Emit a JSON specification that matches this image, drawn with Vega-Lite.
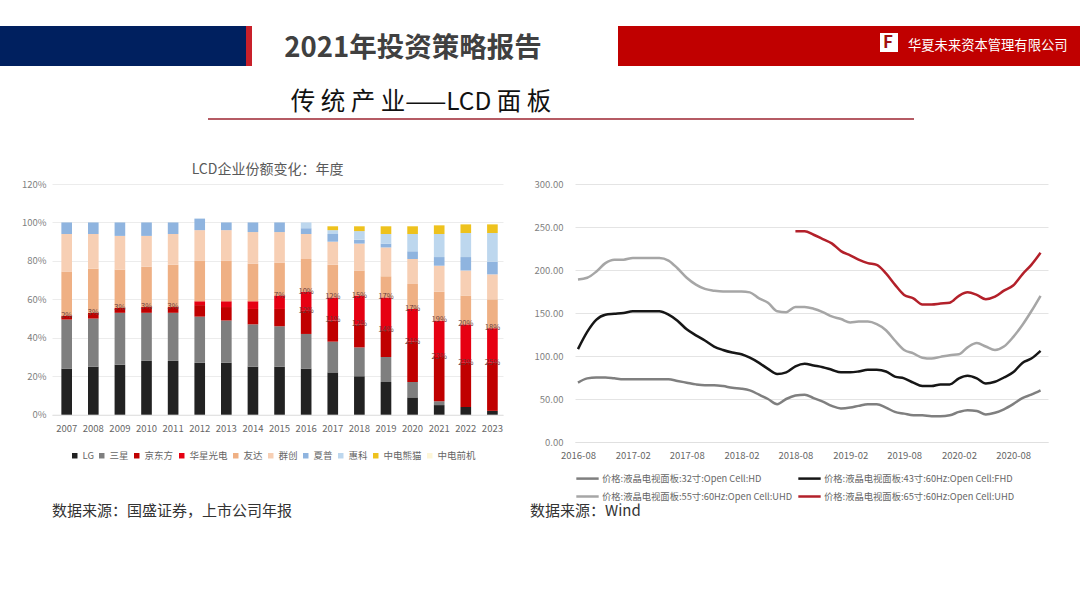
{"$schema":"https://vega.github.io/schema/vega-lite/v6.json","padding":0,"background":"#ffffff","bounds":"flush","spacing":0,"config":{"view":{"stroke":null},"font":"Noto Sans CJK SC"},
"datasets":{
"share":[
{"year":2007,"company":"LG","rank":1,"value":0.24},{"year":2007,"company":"三星","rank":2,"value":0.255},{"year":2007,"company":"京东方","rank":3,"value":0.02},{"year":2007,"company":"友达","rank":5,"value":0.23},{"year":2007,"company":"群创","rank":6,"value":0.195},{"year":2007,"company":"夏普","rank":7,"value":0.06},
{"year":2008,"company":"LG","rank":1,"value":0.25},{"year":2008,"company":"三星","rank":2,"value":0.25},{"year":2008,"company":"京东方","rank":3,"value":0.03},{"year":2008,"company":"友达","rank":5,"value":0.23},{"year":2008,"company":"群创","rank":6,"value":0.18},{"year":2008,"company":"夏普","rank":7,"value":0.06},
{"year":2009,"company":"LG","rank":1,"value":0.26},{"year":2009,"company":"三星","rank":2,"value":0.27},{"year":2009,"company":"京东方","rank":3,"value":0.025},{"year":2009,"company":"友达","rank":5,"value":0.2},{"year":2009,"company":"群创","rank":6,"value":0.175},{"year":2009,"company":"夏普","rank":7,"value":0.07},
{"year":2010,"company":"LG","rank":1,"value":0.28},{"year":2010,"company":"三星","rank":2,"value":0.25},{"year":2010,"company":"京东方","rank":3,"value":0.03},{"year":2010,"company":"友达","rank":5,"value":0.21},{"year":2010,"company":"群创","rank":6,"value":0.16},{"year":2010,"company":"夏普","rank":7,"value":0.07},
{"year":2011,"company":"LG","rank":1,"value":0.28},{"year":2011,"company":"三星","rank":2,"value":0.25},{"year":2011,"company":"京东方","rank":3,"value":0.03},{"year":2011,"company":"友达","rank":5,"value":0.22},{"year":2011,"company":"群创","rank":6,"value":0.16},{"year":2011,"company":"夏普","rank":7,"value":0.06},
{"year":2012,"company":"LG","rank":1,"value":0.27},{"year":2012,"company":"三星","rank":2,"value":0.24},{"year":2012,"company":"京东方","rank":3,"value":0.06},{"year":2012,"company":"华星光电","rank":4,"value":0.02},{"year":2012,"company":"友达","rank":5,"value":0.21},{"year":2012,"company":"群创","rank":6,"value":0.16},{"year":2012,"company":"夏普","rank":7,"value":0.06},
{"year":2013,"company":"LG","rank":1,"value":0.27},{"year":2013,"company":"三星","rank":2,"value":0.22},{"year":2013,"company":"京东方","rank":3,"value":0.07},{"year":2013,"company":"华星光电","rank":4,"value":0.03},{"year":2013,"company":"友达","rank":5,"value":0.21},{"year":2013,"company":"群创","rank":6,"value":0.16},{"year":2013,"company":"夏普","rank":7,"value":0.04},
{"year":2014,"company":"LG","rank":1,"value":0.25},{"year":2014,"company":"三星","rank":2,"value":0.22},{"year":2014,"company":"京东方","rank":3,"value":0.08},{"year":2014,"company":"华星光电","rank":4,"value":0.04},{"year":2014,"company":"友达","rank":5,"value":0.195},{"year":2014,"company":"群创","rank":6,"value":0.165},{"year":2014,"company":"夏普","rank":7,"value":0.05},
{"year":2015,"company":"LG","rank":1,"value":0.25},{"year":2015,"company":"三星","rank":2,"value":0.21},{"year":2015,"company":"京东方","rank":3,"value":0.09},{"year":2015,"company":"华星光电","rank":4,"value":0.07},{"year":2015,"company":"友达","rank":5,"value":0.17},{"year":2015,"company":"群创","rank":6,"value":0.16},{"year":2015,"company":"夏普","rank":7,"value":0.05},
{"year":2016,"company":"LG","rank":1,"value":0.24},{"year":2016,"company":"三星","rank":2,"value":0.18},{"year":2016,"company":"京东方","rank":3,"value":0.12},{"year":2016,"company":"华星光电","rank":4,"value":0.1},{"year":2016,"company":"友达","rank":5,"value":0.17},{"year":2016,"company":"群创","rank":6,"value":0.13},{"year":2016,"company":"夏普","rank":7,"value":0.03},{"year":2016,"company":"惠科","rank":8,"value":0.03},
{"year":2017,"company":"LG","rank":1,"value":0.22},{"year":2017,"company":"三星","rank":2,"value":0.16},{"year":2017,"company":"京东方","rank":3,"value":0.11},{"year":2017,"company":"华星光电","rank":4,"value":0.12},{"year":2017,"company":"友达","rank":5,"value":0.17},{"year":2017,"company":"群创","rank":6,"value":0.12},{"year":2017,"company":"夏普","rank":7,"value":0.04},{"year":2017,"company":"惠科","rank":8,"value":0.02},{"year":2017,"company":"中电熊猫","rank":9,"value":0.02},
{"year":2018,"company":"LG","rank":1,"value":0.2},{"year":2018,"company":"三星","rank":2,"value":0.15},{"year":2018,"company":"京东方","rank":3,"value":0.12},{"year":2018,"company":"华星光电","rank":4,"value":0.15},{"year":2018,"company":"友达","rank":5,"value":0.13},{"year":2018,"company":"群创","rank":6,"value":0.14},{"year":2018,"company":"夏普","rank":7,"value":0.02},{"year":2018,"company":"惠科","rank":8,"value":0.045},{"year":2018,"company":"中电熊猫","rank":9,"value":0.025},
{"year":2019,"company":"LG","rank":1,"value":0.17},{"year":2019,"company":"三星","rank":2,"value":0.13},{"year":2019,"company":"京东方","rank":3,"value":0.14},{"year":2019,"company":"华星光电","rank":4,"value":0.17},{"year":2019,"company":"友达","rank":5,"value":0.11},{"year":2019,"company":"群创","rank":6,"value":0.15},{"year":2019,"company":"夏普","rank":7,"value":0.02},{"year":2019,"company":"惠科","rank":8,"value":0.05},{"year":2019,"company":"中电熊猫","rank":9,"value":0.04},
{"year":2020,"company":"LG","rank":1,"value":0.09},{"year":2020,"company":"三星","rank":2,"value":0.08},{"year":2020,"company":"京东方","rank":3,"value":0.21},{"year":2020,"company":"华星光电","rank":4,"value":0.17},{"year":2020,"company":"友达","rank":5,"value":0.13},{"year":2020,"company":"群创","rank":6,"value":0.13},{"year":2020,"company":"夏普","rank":7,"value":0.04},{"year":2020,"company":"惠科","rank":8,"value":0.09},{"year":2020,"company":"中电熊猫","rank":9,"value":0.04},
{"year":2021,"company":"LG","rank":1,"value":0.05},{"year":2021,"company":"三星","rank":2,"value":0.02},{"year":2021,"company":"京东方","rank":3,"value":0.23},{"year":2021,"company":"华星光电","rank":4,"value":0.19},{"year":2021,"company":"友达","rank":5,"value":0.15},{"year":2021,"company":"群创","rank":6,"value":0.135},{"year":2021,"company":"夏普","rank":7,"value":0.045},{"year":2021,"company":"惠科","rank":8,"value":0.12},{"year":2021,"company":"中电熊猫","rank":9,"value":0.045},
{"year":2022,"company":"LG","rank":1,"value":0.04},{"year":2022,"company":"京东方","rank":3,"value":0.23},{"year":2022,"company":"华星光电","rank":4,"value":0.2},{"year":2022,"company":"友达","rank":5,"value":0.15},{"year":2022,"company":"群创","rank":6,"value":0.13},{"year":2022,"company":"夏普","rank":7,"value":0.07},{"year":2022,"company":"惠科","rank":8,"value":0.125},{"year":2022,"company":"中电熊猫","rank":9,"value":0.045},
{"year":2023,"company":"LG","rank":1,"value":0.02},{"year":2023,"company":"京东方","rank":3,"value":0.25},{"year":2023,"company":"华星光电","rank":4,"value":0.18},{"year":2023,"company":"友达","rank":5,"value":0.15},{"year":2023,"company":"群创","rank":6,"value":0.13},{"year":2023,"company":"夏普","rank":7,"value":0.065},{"year":2023,"company":"惠科","rank":8,"value":0.15},{"year":2023,"company":"中电熊猫","rank":9,"value":0.045}
],
"price":[
{"date":"2016-08-01","a":69,"b":108,"c":189},{"date":"2016-09-01","a":74,"b":128,"c":191},{"date":"2016-10-01","a":75,"b":142,"c":198},{"date":"2016-11-01","a":75,"b":148,"c":208},{"date":"2016-12-01","a":74,"b":149,"c":212},
{"date":"2017-01-01","a":73,"b":150,"c":212},{"date":"2017-02-01","a":73,"b":152,"c":214},{"date":"2017-03-01","a":73,"b":152,"c":214},{"date":"2017-04-01","a":73,"b":152,"c":214},{"date":"2017-05-01","a":73,"b":152,"c":214},{"date":"2017-06-01","a":73,"b":148,"c":211},{"date":"2017-07-01","a":71,"b":141,"c":202},{"date":"2017-08-01","a":69,"b":131,"c":191},{"date":"2017-09-01","a":67,"b":124,"c":183},{"date":"2017-10-01","a":66,"b":118,"c":178},{"date":"2017-11-01","a":66,"b":111,"c":176},{"date":"2017-12-01","a":65,"b":107,"c":175},
{"date":"2018-01-01","a":63,"b":104,"c":175},{"date":"2018-02-01","a":62,"b":102,"c":175},{"date":"2018-03-01","a":60,"b":98,"c":174},{"date":"2018-04-01","a":55,"b":92,"c":167},{"date":"2018-05-01","a":50,"b":85,"c":162},{"date":"2018-06-01","a":44,"b":79,"c":152},{"date":"2018-07-01","a":50,"b":81,"c":151},{"date":"2018-08-01","a":54,"b":88,"c":157,"d":245},{"date":"2018-09-01","a":55,"b":91,"c":157,"d":245},{"date":"2018-10-01","a":51,"b":89,"c":155,"d":241},{"date":"2018-11-01","a":47,"b":87,"c":151,"d":236},{"date":"2018-12-01","a":42,"b":84,"c":146,"d":231},
{"date":"2019-01-01","a":39,"b":81,"c":143,"d":222},{"date":"2019-02-01","a":40,"b":81,"c":139,"d":217},{"date":"2019-03-01","a":42,"b":82,"c":140,"d":212},{"date":"2019-04-01","a":44,"b":84,"c":140,"d":208},{"date":"2019-05-01","a":44,"b":84,"c":137,"d":206},{"date":"2019-06-01","a":40,"b":82,"c":130,"d":196},{"date":"2019-07-01","a":35,"b":76,"c":118,"d":183},{"date":"2019-08-01","a":33,"b":74,"c":107,"d":171},{"date":"2019-09-01","a":31,"b":69,"c":103,"d":167},{"date":"2019-10-01","a":31,"b":65,"c":98,"d":160},{"date":"2019-11-01","a":30,"b":65,"c":97,"d":160},{"date":"2019-12-01","a":30,"b":67,"c":99,"d":161},
{"date":"2020-01-01","a":31,"b":67,"c":101,"d":162},{"date":"2020-02-01","a":35,"b":74,"c":102,"d":170},{"date":"2020-03-01","a":37,"b":77,"c":110,"d":174},{"date":"2020-04-01","a":36,"b":74,"c":115,"d":171},{"date":"2020-05-01","a":32,"b":68,"c":111,"d":166},{"date":"2020-06-01","a":34,"b":70,"c":107,"d":169},{"date":"2020-07-01","a":38,"b":75,"c":111,"d":176},{"date":"2020-08-01","a":44,"b":81,"c":122,"d":182},{"date":"2020-09-01","a":51,"b":92,"c":136,"d":195},{"date":"2020-10-01","a":55,"b":97,"c":152,"d":206},{"date":"2020-11-01","a":60,"b":106,"c":170,"d":220}
]},
"vconcat":[
{"width":1080,"height":184,"data":{"values":[{}]},"layer":[
{"mark":{"type":"rect","color":"#00205f"},"encoding":{"x":{"datum":0,"type":"quantitative","scale":{"domain":[0,1080],"nice":false},"axis":null},"x2":{"datum":246},"y":{"datum":26,"type":"quantitative","scale":{"domain":[184,0],"nice":false},"axis":null},"y2":{"datum":66}}},
{"mark":{"type":"rect","color":"#c8202a"},"encoding":{"x":{"datum":246,"type":"quantitative","scale":{"domain":[0,1080],"nice":false},"axis":null},"x2":{"datum":252},"y":{"datum":26,"type":"quantitative","scale":{"domain":[184,0],"nice":false},"axis":null},"y2":{"datum":66}}},
{"mark":{"type":"rect","color":"#c00000"},"encoding":{"x":{"datum":618,"type":"quantitative","scale":{"domain":[0,1080],"nice":false},"axis":null},"x2":{"datum":1080},"y":{"datum":26,"type":"quantitative","scale":{"domain":[184,0],"nice":false},"axis":null},"y2":{"datum":66}}},
{"mark":{"type":"rect","color":"#ffffff"},"encoding":{"x":{"datum":880,"type":"quantitative","scale":{"domain":[0,1080],"nice":false},"axis":null},"x2":{"datum":898},"y":{"datum":33,"type":"quantitative","scale":{"domain":[184,0],"nice":false},"axis":null},"y2":{"datum":52}}},
{"mark":{"type":"rule","color":"#9c2430","strokeWidth":1.6},"encoding":{"x":{"datum":208,"type":"quantitative","scale":{"domain":[0,1080],"nice":false},"axis":null},"x2":{"datum":914},"y":{"datum":119,"type":"quantitative","scale":{"domain":[184,0],"nice":false},"axis":null}}},
{"mark":{"type":"text","text":"2021年投资策略报告","fontSize":27.5,"fontWeight":"bold","color":"#404040","align":"center","baseline":"middle"},"encoding":{"x":{"datum":413,"type":"quantitative","scale":{"domain":[0,1080],"nice":false},"axis":null},"y":{"datum":49,"type":"quantitative","scale":{"domain":[184,0],"nice":false},"axis":null}}},
{"mark":{"type":"text","text":"F","fontSize":17,"fontWeight":"bold","color":"#a01010","align":"center","baseline":"middle"},"encoding":{"x":{"datum":888,"type":"quantitative","scale":{"domain":[0,1080],"nice":false},"axis":null},"y":{"datum":43,"type":"quantitative","scale":{"domain":[184,0],"nice":false},"axis":null}}},
{"mark":{"type":"text","text":"华夏未来资本管理有限公司","fontSize":13.3,"color":"#ffffff","align":"left","baseline":"middle"},"encoding":{"x":{"datum":908,"type":"quantitative","scale":{"domain":[0,1080],"nice":false},"axis":null},"y":{"datum":46,"type":"quantitative","scale":{"domain":[184,0],"nice":false},"axis":null}}},
{"mark":{"type":"text","text":"传 统 产 业——LCD 面 板","fontSize":24.5,"color":"#111111","align":"center","baseline":"middle"},"encoding":{"x":{"datum":421,"type":"quantitative","scale":{"domain":[0,1080],"nice":false},"axis":null},"y":{"datum":103,"type":"quantitative","scale":{"domain":[184,0],"nice":false},"axis":null}}}
]},
{"hconcat":[
{"width":52,"height":258,"data":{"values":[{}]},"mark":{"type":"rect","opacity":0},"encoding":{}},
{"width":451,"height":230.7,"data":{"name":"share"},
"title":{"text":"LCD企业份额变化\uff1a年度","fontSize":14,"fontWeight":"normal","color":"#595959","anchor":"middle","dx":-10,"offset":2},
"encoding":{"x":{"field":"year","type":"ordinal","title":null,"scale":{"paddingInner":0.6,"paddingOuter":0.275,"align":0.64},"axis":{"labelAngle":0,"labelColor":"#666666","labelFontSize":9.5,"labelPadding":9,"ticks":false,"domainColor":"#e0e0e0"}},
"y":{"field":"value","type":"quantitative","stack":"zero","title":null,"scale":{"domain":[0,1.2],"nice":false},"axis":{"values":[0,0.2,0.4,0.6,0.8,1,1.2],"format":".0%","labelColor":"#7f7f7f","labelFontSize":9.5,"labelPadding":6,"ticks":false,"domain":false,"gridColor":"#ececec"}},
"order":{"field":"rank"}},
"layer":[
{"mark":{"type":"bar"},"encoding":{"color":{"field":"company","type":"nominal","scale":{"domain":["LG","三星","京东方","华星光电","友达","群创","夏普","惠科","中电熊猫","中电前机"],"range":["#222222","#7f7f7f","#c00000","#e60012","#efb084","#f7cfb4","#8fb4df","#bdd7ee","#eec21d","#fdf6d8"]},"legend":{"title":null,"orient":"none","legendX":18,"legendY":267,"direction":"horizontal","columns":10,"symbolType":"square","symbolSize":30,"labelFontSize":9.5,"labelColor":"#666666","gridAlign":"none","columnPadding":3,"labelOffset":3,"symbolOpacity":1}}}},
{"mark":{"type":"text","fontSize":7.5,"color":"#6a3b3b","align":"center","baseline":"middle"},"encoding":{"text":{"condition":{"test":"(datum.company==='京东方'&&(datum.year<=2011||datum.year>=2016))||(datum.company==='华星光电'&&datum.year>=2015)","field":"value","format":".0%"},"value":""}}}
]},
{"width":72,"height":258,"data":{"values":[{}]},"mark":{"type":"rect","opacity":0},"encoding":{}},
{"width":473,"height":258,"data":{"name":"price"},
"transform":[{"fold":["a","b","c","d"],"as":["key","price"]},{"lookup":"key","from":{"data":{"values":[{"key":"a","series":"32寸:Open Cell:HD"},{"key":"b","series":"43寸:60Hz:Open Cell:FHD"},{"key":"c","series":"55寸:60Hz:Open Cell:UHD"},{"key":"d","series":"65寸:60Hz:Open Cell:UHD"}]},"key":"key","fields":["series"]}},{"filter":"isValid(datum.price)"}],
"mark":{"type":"line","strokeWidth":2.5,"interpolate":"monotone"},
"encoding":{"x":{"field":"date","type":"temporal","title":null,"scale":{"type":"utc","domain":["2016-07-22","2020-11-26"]},"axis":{"values":[{"year":2016,"month":"aug","date":1,"utc":true},{"year":2017,"month":"feb","date":1,"utc":true},{"year":2017,"month":"aug","date":1,"utc":true},{"year":2018,"month":"feb","date":1,"utc":true},{"year":2018,"month":"aug","date":1,"utc":true},{"year":2019,"month":"feb","date":1,"utc":true},{"year":2019,"month":"aug","date":1,"utc":true},{"year":2020,"month":"feb","date":1,"utc":true},{"year":2020,"month":"aug","date":1,"utc":true}],"format":"%Y-%m","labelColor":"#666666","labelFontSize":9.5,"labelPadding":8,"ticks":false,"grid":false,"domainColor":"#e0e0e0","labelOverlap":false,"labelFlush":false}},
"y":{"field":"price","type":"quantitative","title":null,"scale":{"domain":[0,300],"nice":false},"axis":{"values":[0,50,100,150,200,250,300],"format":".2f","labelColor":"#7f7f7f","labelFontSize":9.5,"labelPadding":12,"ticks":false,"domain":false,"gridColor":"#e4e4e4"}},
"color":{"field":"series","type":"nominal","scale":{"domain":["32寸:Open Cell:HD","43寸:60Hz:Open Cell:FHD","55寸:60Hz:Open Cell:UHD","65寸:60Hz:Open Cell:UHD"],"range":["#7f7f7f","#161616","#a6a6a6","#b3202a"]},"legend":{"title":null,"orient":"none","legendX":0,"legendY":282,"direction":"horizontal","columns":2,"symbolType":"stroke","symbolSize":500,"symbolStrokeWidth":2.5,"labelFontSize":9.3,"labelColor":"#666666","labelLimit":300,"labelOffset":2,"rowPadding":-4,"columnPadding":0,"labelExpr":"'价格:液晶电视面板:'+datum.label"}}}},
{"width":32,"height":258,"data":{"values":[{}]},"mark":{"type":"rect","opacity":0},"encoding":{}}
],"spacing":0,"bounds":"flush","resolve":{"scale":{"color":"independent"}}},
{"width":1080,"height":424,"data":{"values":[{}]},"layer":[
{"mark":{"type":"text","text":"数据来源\uff1a国盛证券\uff0c上市公司年报","fontSize":15,"color":"#333333","align":"left","baseline":"middle"},"encoding":{"x":{"datum":52,"type":"quantitative","scale":{"domain":[0,1080],"nice":false},"axis":null},"y":{"datum":511,"type":"quantitative","scale":{"domain":[608,184],"nice":false},"axis":null}}},
{"mark":{"type":"text","text":"数据来源\uff1aWind","fontSize":15,"color":"#333333","align":"left","baseline":"middle"},"encoding":{"x":{"datum":530,"type":"quantitative","scale":{"domain":[0,1080],"nice":false},"axis":null},"y":{"datum":511,"type":"quantitative","scale":{"domain":[608,184],"nice":false},"axis":null}}}
]}
]}
